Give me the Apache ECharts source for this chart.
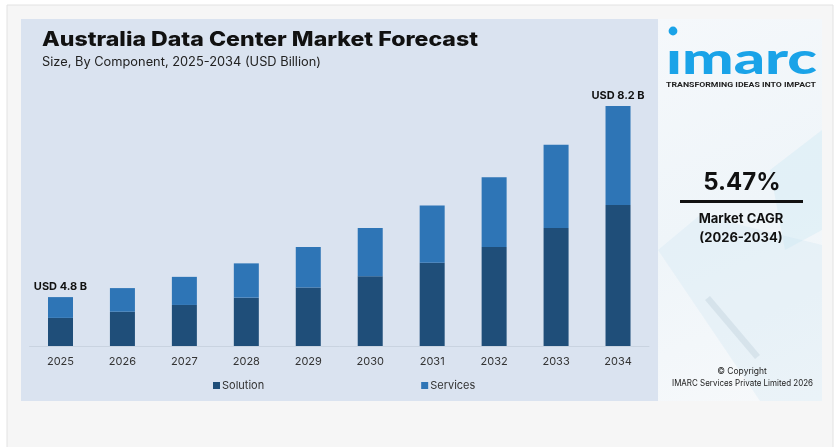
<!DOCTYPE html>
<html>
<head>
<meta charset="utf-8">
<script src="https://cdn.jsdelivr.net/npm/echarts@6/dist/echarts.min.js"></script>
<style>
html,body{margin:0;padding:0;background:#ffffff;}
#chart{width:838px;height:447px;}
</style>
</head>
<body>
<div id="chart"></div>
<script>
// Data (USD Billion)
const years = ['2025','2026','2027','2028','2029','2030','2031','2032','2033','2034'];
const solution = [4.43, 4.54, 4.66, 4.79, 4.97, 5.17, 5.41, 5.69, 6.03, 6.44];
const services = [0.37, 0.42, 0.50, 0.61, 0.72, 0.86, 1.02, 1.24, 1.48, 1.76];
const seriesNames = ['Solution', 'Services'];
const titleText = 'Australia Data Center Market Forecast';
const subtitleText = 'Size, By Component, 2025-2034 (USD Billion)';
const cagrText = '5.47%';
const cagrLabel = 'Market CAGR';
const cagrPeriod = '(2026-2034)';

const totals = years.map((y, i) => +(solution[i] + services[i]).toFixed(1));
const lastIdx = years.length - 1;

const measureCtx = document.createElement('canvas').getContext('2d');
function fitScale(text, font, width) {
  measureCtx.font = font;
  return width / measureCtx.measureText(text).width;
}
function fitText(text, font, x, y, width, color) {
  const s = fitScale(text, font, width);
  return {type: 'text', x: x, y: y, scaleX: s,
    style: {text: text, font: font, fill: color, align: 'left', verticalAlign: 'middle'}};
}

const FT = 'Inter, "Noto Sans", sans-serif';
const titleFont = '800 20px ' + FT;
const subFont = '12.5px ' + FT;
const logoFont = '900 43px Lato, "Noto Sans", sans-serif';
const tagFont = 'bold 8px Roboto, "Noto Sans", sans-serif';
const copyFont = '8.5px ' + FT;

const chart = echarts.init(document.getElementById('chart'), null, {renderer: 'canvas'});

const option = {
  animation: false,
  backgroundColor: '#ffffff',
  graphic: [
    {type: 'rect', shape: {x: 7, y: 5, width: 826, height: 460}, style: {fill: '#f6f6f6', stroke: '#e2e2e2', lineWidth: 1}, z: -10},
    {type: 'rect', shape: {x: 21, y: 19, width: 637, height: 382}, style: {fill: '#dae3f0'}, z: -9},
    {type: 'rect', shape: {x: 658, y: 19, width: 164, height: 382},
      style: {fill: new echarts.graphic.LinearGradient(0, 0, 1, 1, [
        {offset: 0, color: '#f5f8fb'}, {offset: 0.5, color: '#eff5f9'}, {offset: 1, color: '#f7f9fb'}])}, z: -9},
    // faint decorative shapes in the right panel
    {type: 'polygon', shape: {points: [[658, 250], [700, 215], [822, 245], [822, 401], [760, 401]]}, style: {fill: 'rgba(205,228,242,0.3)'}, z: -8},
    {type: 'polygon', shape: {points: [[705, 300], [710, 296], [760, 355], [755, 359]]}, style: {fill: 'rgba(175,195,210,0.3)'}, z: -8},
    {type: 'polygon', shape: {points: [[770, 170], [822, 130], [822, 230], [785, 250]]}, style: {fill: 'rgba(195,228,242,0.3)'}, z: -8},
    fitText(titleText, titleFont, 42, 40.2, 436, '#111111'),
    fitText(subtitleText, subFont, 42, 62.3, 279, '#222222'),
    // logo
    {type: 'circle', shape: {cx: 673, cy: 31, r: 4.4}, style: {fill: '#1aa3e8'}},
    fitText('ımarc', logoFont, 666, 60.5, 151, '#1aa3e8'),
    fitText('TRANSFORMING IDEAS INTO IMPACT', tagFont, 666, 84.5, 150, '#222222'),
    // CAGR
    {type: 'text', x: 742, y: 183, style: {text: cagrText, font: 'bold 24px ' + FT, fill: '#111111', align: 'center', verticalAlign: 'middle'}},
    {type: 'rect', shape: {x: 680, y: 200, width: 123, height: 3}, style: {fill: '#111111'}},
    {type: 'text', x: 741, y: 219, style: {text: cagrLabel, font: 'bold 13px ' + FT, fill: '#111111', align: 'center', verticalAlign: 'middle'}},
    {type: 'text', x: 741, y: 238, style: {text: cagrPeriod, font: 'bold 13px ' + FT, fill: '#111111', align: 'center', verticalAlign: 'middle'}},
    {type: 'text', x: 742, y: 371, style: {text: '© Copyright', font: copyFont, fill: '#222222', align: 'center', verticalAlign: 'middle'}},
    fitText('IMARC Services Private Limited 2026', copyFont, 672, 383.5, 141, '#222222')
  ],
  legend: {
    data: seriesNames,
    left: 208,
    top: 375,
    icon: 'rect',
    itemWidth: 7,
    itemHeight: 7,
    itemGap: 157,
    textStyle: {fontSize: 11, color: '#333333', fontFamily: FT, padding: [0, 0, 0, -3]}
  },
  grid: {left: 29.5, right: 838 - 649, top: 61, bottom: 447 - 346, containLabel: false},
  xAxis: {
    type: 'category',
    data: years,
    axisLine: {show: true, lineStyle: {color: '#c9d3e0', width: 1}},
    axisTick: {show: false},
    axisLabel: {color: '#333333', fontSize: 11, margin: 10, fontFamily: FT}
  },
  yAxis: {
    type: 'value',
    min: 3.93,
    max: 9,
    show: false,
    splitLine: {show: false}
  },
  series: [
    {
      name: seriesNames[0], type: 'bar', stack: 'total', barWidth: 25,
      data: solution,
      itemStyle: {color: '#1f4e79'}
    },
    {
      name: seriesNames[1], type: 'bar', stack: 'total', barWidth: 25,
      data: services,
      itemStyle: {color: '#2e75b6'},
      label: {
        show: true, position: 'top', distance: 5,
        fontSize: 11, fontWeight: 'bold', color: '#111111', fontFamily: FT,
        formatter: p => (p.dataIndex === 0 || p.dataIndex === lastIdx) ? 'USD ' + totals[p.dataIndex] + ' B' : ''
      }
    }
  ]
};
chart.setOption(option);
</script>
</body>
</html>
